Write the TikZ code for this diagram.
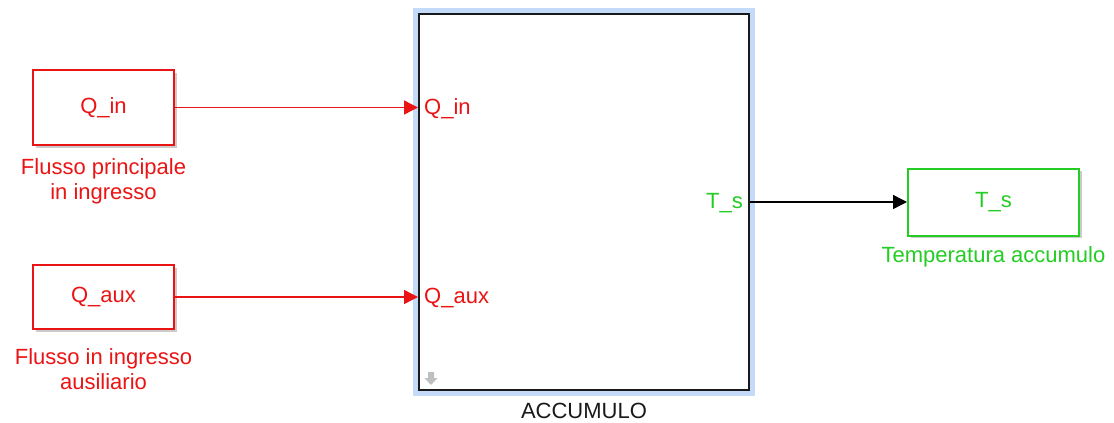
\documentclass[tikz,border=0pt]{standalone}
\usepackage{fontspec}
\setmainfont{Liberation Sans}
\usetikzlibrary{arrows.meta,shadows}
\definecolor{sigred}{RGB}{235,20,20}
\definecolor{siggreen}{RGB}{35,205,35}
\definecolor{halo}{RGB}{195,218,248}
\definecolor{captxt}{RGB}{25,25,25}
\tikzset{
  txt/.style={font=\fontsize{22}{25}\selectfont},
  blk/.style={draw, line width=2, fill=white, inner sep=0, txt,
    drop shadow={shadow xshift=2.5pt, shadow yshift=-2.5pt, fill=black!40, opacity=0.5}},
  redblk/.style={blk, draw=sigred, text=sigred},
  greenblk/.style={blk, draw=siggreen, text=siggreen},
  caption/.style={txt, align=center, inner sep=0},
  portlbl/.style={txt, inner sep=0},
  sig/.style={line width=1.4, -{Triangle[length=14, width=14]}},
}
\begin{document}
\begin{tikzpicture}[x=1pt,y=-1pt]
\useasboundingbox (0,0) rectangle (1114,423);
\fill[white] (0,0) rectangle (1114,423);

% subsystem block with selection halo
\node[draw=captxt, line width=2, fill=white, inner sep=0,
      minimum width=330, minimum height=376,
      preaction={draw=halo, line width=12}] (acc) at (584,202) {};
\node[txt, text=captxt, inner sep=0] (acclbl) at (584,411) {ACCUMULO};

% library-link icon in the lower-left corner
\fill[black!25] (428,372) -- (434,372) -- (434,378) -- (437.5,378) -- (431,385)
   -- (424.5,378) -- (428,378) -- cycle;

% input blocks
\node[redblk, minimum width=141, minimum height=75] (qin) at (103.5,107.5) {Q\_in};
\node[redblk, minimum width=141, minimum height=64] (qaux) at (103.5,297) {Q\_aux};
\node[caption, text=sigred] (qincap) at (103.5,181) {Flusso principale\\in ingresso};
\node[caption, text=sigred] (qauxcap) at (103.5,369) {Flusso in ingresso\\ausiliario};

% output block
\node[greenblk, minimum width=171, minimum height=67] (ts) at (993.5,202) {T\_s};
\node[caption, text=siggreen] (tscap) at (993.5,257) {Temperatura accumulo};

% ports of the subsystem
\coordinate (pin1) at (acc.west |- qin.east);
\coordinate (pin2) at (acc.west |- qaux.east);
\coordinate (pout) at (acc.east |- ts.west);
\node[portlbl, text=sigred, anchor=west] (pl1) at ([xshift=6,yshift=-1.5]pin1) {Q\_in};
\node[portlbl, text=sigred, anchor=west] (pl2) at ([xshift=6,yshift=-1.5]pin2) {Q\_aux};
\node[portlbl, text=siggreen, anchor=east] (pl3) at ([xshift=-7,yshift=-1.5]pout) {T\_s};

% signal lines
\draw[sig, sigred] (qin.east) -- (pin1);
\draw[sig, sigred] (qaux.east) -- (pin2);
\draw[sig, black] (pout) -- (ts.west);
\end{tikzpicture}
\end{document}
